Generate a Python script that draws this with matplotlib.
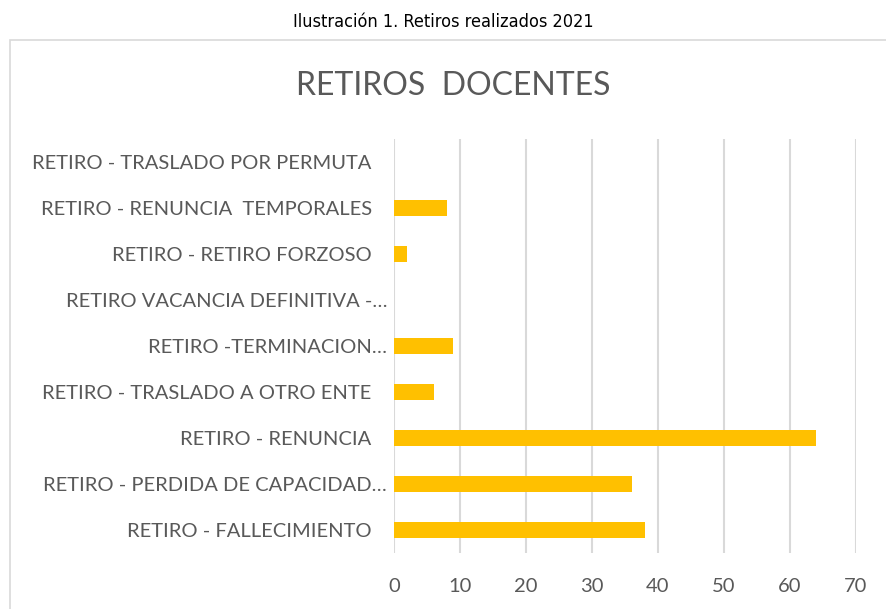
import matplotlib
matplotlib.use("Agg")
import matplotlib.pyplot as plt
from matplotlib.patches import Rectangle
from matplotlib import font_manager

categories = [
    "RETIRO - FALLECIMIENTO   ",
    "RETIRO - PERDIDA DE CAPACIDAD…",
    "RETIRO - RENUNCIA   ",
    "RETIRO - TRASLADO A OTRO ENTE   ",
    "RETIRO -TERMINACION…",
    "RETIRO VACANCIA DEFINITIVA -…",
    "RETIRO - RETIRO FORZOSO   ",
    "RETIRO - RENUNCIA  TEMPORALES   ",
    "RETIRO - TRASLADO POR PERMUTA   ",
]
values = [38, 36, 64, 6, 9, 0, 2, 8, 0]
xticks = [0, 10, 20, 30, 40, 50, 60, 70]

W, H = 886, 609
fig = plt.figure(figsize=(W / 100, H / 100), dpi=100)
font = "Lato"
gray = "#595959"

names = {f.name for f in font_manager.fontManager.ttflist}
if "Liberation Sans Narrow" in names:
    cap_font = dict(family="Liberation Sans Narrow")
else:
    cap_font = dict(family="DejaVu Sans", stretch="condensed")

ax = fig.add_axes([394 / W, 1 - 553 / H, (856 - 394) / W, (553 - 139) / H])
ypos = list(range(len(categories)))
ax.barh(ypos, values, height=0.35, color="#FFC000", zorder=3)
ax.set_xlim(0, 70)
ax.set_ylim(-0.5, len(categories) - 0.5)
ax.set_xticks(xticks)
ax.set_xticklabels([str(t) for t in xticks], fontsize=14.5, color=gray, family=font)
ax.set_yticks(ypos)
ax.set_yticklabels(categories, fontsize=14.5, color=gray, family=font)
ax.tick_params(axis="both", length=0)
ax.tick_params(axis="x", pad=18)
ax.tick_params(axis="y", pad=5)
for s in ax.spines.values():
    s.set_visible(False)
ax.grid(axis="x", color="#D9D9D9", linewidth=1.5, zorder=0)
ax.set_axisbelow(True)

fig.text(453 / W, 1 - 86 / H, "RETIROS  DOCENTES", ha="center", va="center",
         fontsize=23, color=gray, family=font)
fig.text(443 / W, 1 - 22 / H, "Ilustración 1. Retiros realizados 2021", ha="center",
         va="center", fontsize=13, color="black", **cap_font)

fig.patches.append(Rectangle((10 / W, -0.1), 1.2, 1.1 - 40 / H,
                             transform=fig.transFigure, fill=False,
                             edgecolor="#D9D9D9", linewidth=1.2))

fig.savefig("out.png", dpi=100)
